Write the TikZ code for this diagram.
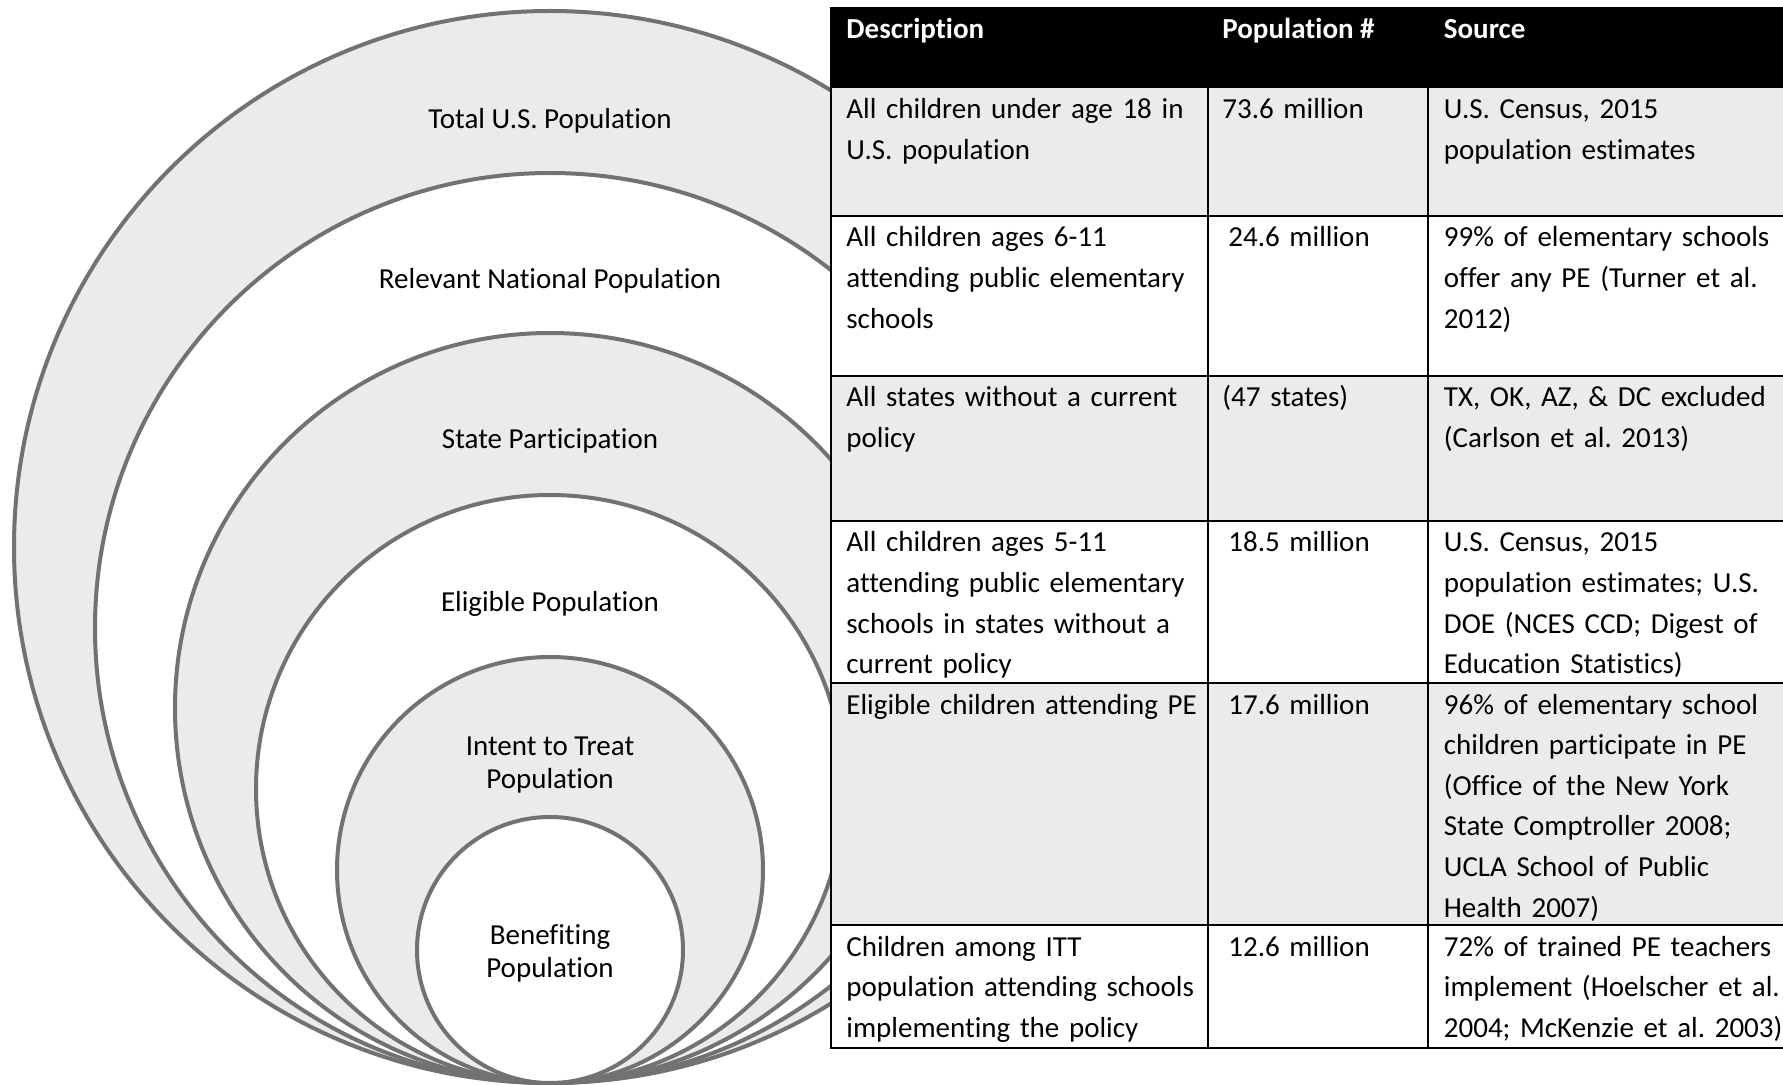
\documentclass[tikz,border=0pt]{standalone}
\usepackage{fontspec}
\setmainfont{Carlito}[Ligatures=CommonOff]
\usetikzlibrary{positioning, calc}
\frenchspacing

\definecolor{ringgray}{RGB}{114,114,114}
\definecolor{cellgray}{RGB}{235,235,235}

\begin{document}
\begin{tikzpicture}[x=0.5pt, y=-0.5pt,
        ring/.style={draw=ringgray, line width=2pt},
        ringlabel/.style={align=center, inner sep=0, font=\fontsize{14.5pt}{16.5pt}\selectfont},
        rowbox/.style={draw=black, line width=1pt, inner sep=0, outer sep=0, minimum width=479.5pt},
        celltext/.style={anchor=base west, inner sep=0, align=left, font=\fontsize{14.5pt}{20.3pt}\selectfont},
        headtext/.style={celltext, text=white, font=\fontsize{14.5pt}{20.3pt}\selectfont\bfseries}]
    \useasboundingbox (0,0) rectangle (1783,1085);

    % nested populations, all touching at the bottom
    \draw[ring, fill=cellgray] (550,547) circle (536);
    \draw[ring, fill=white] (550,628) circle (455);
    \draw[ring, fill=cellgray] (550,708) circle (375);
    \draw[ring, fill=white] (550,789) circle (294);
    \draw[ring, fill=cellgray] (550,870) circle (213);
    \draw[ring, fill=white] (550,950) circle (133);

    \node[ringlabel] (total) at (550,121) {Total U.S. Population};
    \node[ringlabel] (national) at (550,281) {Relevant National Population};
    \node[ringlabel] (state) at (550,441) {State Participation};
    \node[ringlabel] (eligible) at (550,604) {Eligible Population};
    \node[ringlabel] (itt) at (550,765) {Intent to Treat\\Population};
    \node[ringlabel] (benefit) at (550,953) {Benefiting\\Population};

    % table rows
    \node[rowbox, fill=black, minimum height=39.75pt, anchor=north west] (head) at (831,8) {};
    \node[rowbox, fill=cellgray, minimum height=64.25pt, below=0pt of head] (row1) {};
    \node[rowbox, fill=white, minimum height=80pt, below=0pt of row1] (row2) {};
    \node[rowbox, fill=cellgray, minimum height=72.5pt, below=0pt of row2] (row3) {};
    \node[rowbox, fill=white, minimum height=81pt, below=0pt of row3] (row4) {};
    \node[rowbox, fill=cellgray, minimum height=121pt, below=0pt of row4] (row5) {};
    \node[rowbox, fill=white, minimum height=61.5pt, below=0pt of row5] (row6) {};

    \draw[line width=1pt] ($(head.north west)+(377,0)$) -- ($(row6.south west)+(377,0)$);
    \draw[line width=1pt] ($(head.north west)+(597,0)$) -- ($(row6.south west)+(597,0)$);

    \node[headtext] (hdesc) at ($(head.north west)+(15,30.5)$) {Description};
    \node[headtext] (hpop) at ($(head.north west)+(391,30.5)$) {Population \#};
    \node[headtext] (hsrc) at ($(head.north west)+(612.5,30.5)$) {Source};

    \node[celltext, text width=180pt] (desc1) at ($(row1.north west)+(15,31)$) {All children under age 18 in\\U.S. population};
    \node[celltext, text width=100pt] (pop1) at ($(row1.north west)+(391,31)$) {73.6 million};
    \node[celltext, text width=175pt] (src1) at ($(row1.north west)+(612.5,31)$) {U.S. Census, 2015\\population estimates};

    \node[celltext, text width=180pt] (desc2) at ($(row2.north west)+(15,31)$) {All children ages 6-11\\attending public elementary\\schools};
    \node[celltext, text width=100pt] (pop2) at ($(row2.north west)+(397,31)$) {24.6 million};
    \node[celltext, text width=175pt] (src2) at ($(row2.north west)+(612.5,31)$) {99\% of elementary schools\\offer any PE (Turner et al.\\2012)};

    \node[celltext, text width=180pt] (desc3) at ($(row3.north west)+(15,31)$) {All states without a current\\policy};
    \node[celltext, text width=100pt] (pop3) at ($(row3.north west)+(391,31)$) {(47 states)};
    \node[celltext, text width=175pt] (src3) at ($(row3.north west)+(612.5,31)$) {TX, OK, AZ, \& DC excluded\\(Carlson et al. 2013)};

    \node[celltext, text width=180pt] (desc4) at ($(row4.north west)+(15,31)$) {All children ages 5-11\\attending public elementary\\schools in states without a\\current policy};
    \node[celltext, text width=100pt] (pop4) at ($(row4.north west)+(397,31)$) {18.5 million};
    \node[celltext, text width=175pt] (src4) at ($(row4.north west)+(612.5,31)$) {U.S. Census, 2015\\population estimates; U.S.\\DOE (NCES CCD; Digest of\\Education Statistics)};

    \node[celltext, text width=180pt] (desc5) at ($(row5.north west)+(15,31)$) {Eligible children attending PE};
    \node[celltext, text width=100pt] (pop5) at ($(row5.north west)+(397,31)$) {17.6 million};
    \node[celltext, text width=175pt] (src5) at ($(row5.north west)+(612.5,31)$) {96\% of elementary school\\children participate in PE\\(Office of the New York\\State Comptroller 2008;\\UCLA School of Public\\Health 2007)};

    \node[celltext, text width=180pt] (desc6) at ($(row6.north west)+(15,31)$) {Children among ITT\\population attending schools\\implementing the policy};
    \node[celltext, text width=100pt] (pop6) at ($(row6.north west)+(397,31)$) {12.6 million};
    \node[celltext, text width=175pt] (src6) at ($(row6.north west)+(612.5,31)$) {72\% of trained PE teachers\\implement (Hoelscher et al.\\2004; McKenzie et al. 2003)};
\end{tikzpicture}
\end{document}
